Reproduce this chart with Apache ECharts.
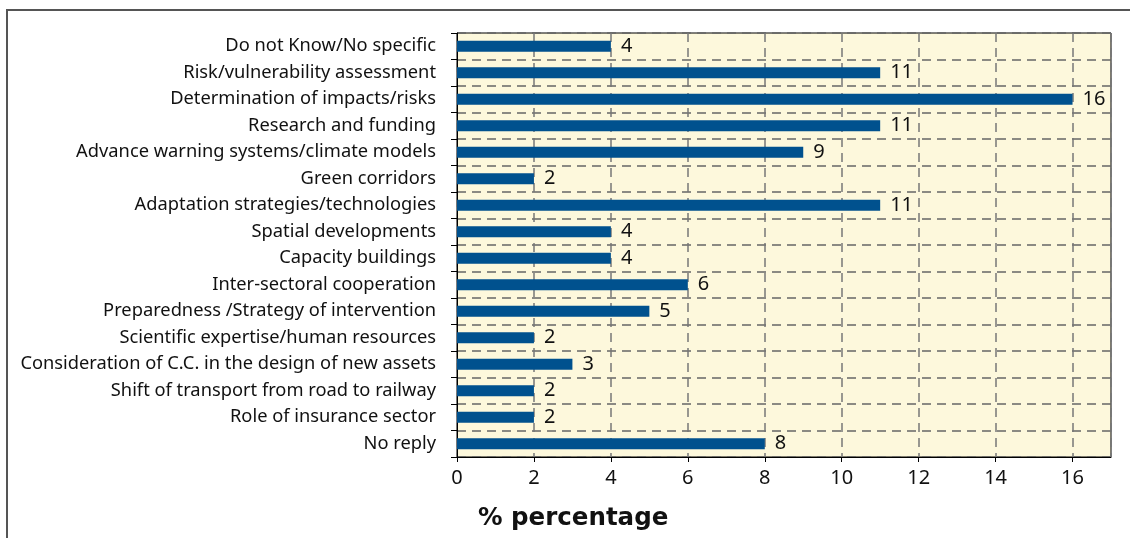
<!DOCTYPE html>
<html>
<head>
<meta charset="utf-8">
<script src="https://cdn.jsdelivr.net/npm/echarts@6/dist/echarts.min.js"></script>
<style>
  html, body { margin: 0; padding: 0; background: #fff; }
  #chart { width: 1130px; height: 538px; }
</style>
</head>
<body>
<div id="chart"></div>
<script>
// Measures named in the survey, listed top to bottom
const categories = [
  'Do not Know/No specific',
  'Risk/vulnerability assessment',
  'Determination of impacts/risks',
  'Research and funding',
  'Advance warning systems/climate models',
  'Green corridors',
  'Adaptation strategies/technologies',
  'Spatial developments',
  'Capacity buildings',
  'Inter-sectoral cooperation',
  'Preparedness /Strategy of intervention',
  'Scientific expertise/human resources',
  'Consideration of C.C. in the design of new assets',
  'Shift of transport from road to railway',
  'Role of insurance sector',
  'No reply'
];
// Share of answers, in %
const percentages = [4, 11, 16, 11, 9, 2, 11, 4, 4, 6, 5, 2, 3, 2, 2, 8];
const axisTitle = '% percentage';

const FONT = '"Noto Sans", "DejaVu Sans", sans-serif';
const chart = echarts.init(document.getElementById('chart'));

chart.setOption({
  animation: false,
  backgroundColor: '#ffffff',
  grid: {
    left: 457, top: 33, right: 19, bottom: 81,
    show: true,
    backgroundColor: '#fdf8dc',
    borderColor: '#000',
    borderWidth: 1
  },
  xAxis: {
    type: 'value',
    min: 0, max: 17, interval: 2,
    axisLine: { show: true, lineStyle: { color: '#000', width: 1 } },
    axisTick: { show: true, length: 5, lineStyle: { color: '#000' } },
    axisLabel: {
      fontFamily: FONT, fontSize: 20, color: '#111', margin: 11,
      showMaxLabel: false
    },
    splitLine: {
      show: true,
      lineStyle: { color: '#777', type: [9, 6], width: 1.5 }
    }
  },
  yAxis: {
    type: 'category',
    data: categories,
    inverse: true,
    axisLine: { show: true, lineStyle: { color: '#000', width: 1 } },
    axisTick: { show: true, length: 6, lineStyle: { color: '#000' } },
    axisLabel: {
      fontFamily: FONT, fontSize: 18.3, color: '#111', margin: 21
    },
    splitLine: {
      show: true,
      lineStyle: { color: '#666', type: [9, 6], width: 1.5 }
    }
  },
  series: [{
    type: 'bar',
    data: percentages,
    barWidth: 11,
    itemStyle: { color: '#00518e' },
    label: {
      show: true,
      position: 'right',
      distance: 10,
      fontFamily: FONT,
      fontSize: 20,
      color: '#111'
    }
  }],
  graphic: [
    {
      type: 'rect',
      shape: { x: 7, y: 10, width: 1300, height: 700 },
      style: { fill: null, stroke: '#555', lineWidth: 2 },
      silent: true
    },
    {
      type: 'text',
      left: 478,
      top: 506,
      style: {
        text: axisTitle,
        fontFamily: '"DejaVu Sans", sans-serif',
        fontWeight: 'bold',
        fontSize: 24.5,
        fill: '#111'
      }
    }
  ]
});
</script>
</body>
</html>
